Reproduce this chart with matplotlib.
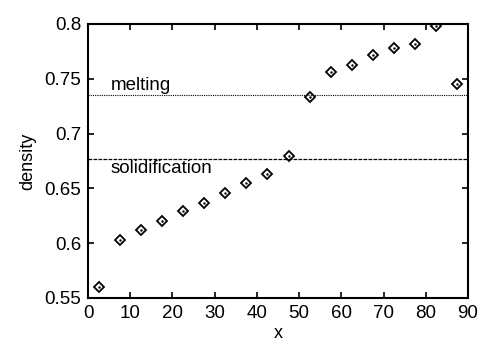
import numpy as np
import matplotlib
matplotlib.use('Agg')
import matplotlib.pyplot as plt

plt.rcParams['font.family'] = ['Liberation Sans', 'DejaVu Sans']

x = [2.5, 7.5, 12.5, 17.5, 22.5, 27.5, 32.5, 37.5, 42.5,
     47.5, 52.5, 57.5, 62.5, 67.5, 72.5, 77.5, 82.5, 87.5]
density = [0.560, 0.603, 0.612, 0.620, 0.629, 0.637, 0.646, 0.655, 0.663,
           0.680, 0.733, 0.756, 0.763, 0.772, 0.778, 0.782, 0.798, 0.745]
melting = 0.7355
solidification = 0.6765

fig = plt.figure(figsize=(4.8, 3.44), dpi=100)
ax = fig.add_axes([88/480, 1-298/344, 380/480, 274/344])

ax.axhline(melting, color='black', lw=0.8, ls=(0, (1, 1)))
ax.axhline(solidification, color='black', lw=0.9, ls=(0, (3, 1)))
ax.plot(x, density, 'kD', mfc='none', ms=5.5, mew=1.3)
ax.plot(x, density, 'k.', ms=1.5)

ax.text(5.3, melting + 0.0005, 'melting', fontsize=13.5, va='bottom')
ax.text(5.3, solidification - 0.001, 'solidification', fontsize=13.5, va='top')

ax.set_xlim(0, 90)
ax.set_ylim(0.55, 0.8)
ax.set_xticks(np.arange(0, 91, 10))
ax.set_yticks([0.55, 0.6, 0.65, 0.7, 0.75, 0.8])
ax.set_yticklabels(['0.55', '0.6', '0.65', '0.7', '0.75', '0.8'])
ax.tick_params(direction='in', top=True, right=True, labelsize=13.5, length=4, width=1.2, pad=5)
for s in ax.spines.values():
    s.set_linewidth(1.5)
ax.set_xlabel('x', fontsize=13, labelpad=2)
ax.set_ylabel('density', fontsize=13, labelpad=6)

fig.savefig('out.png', dpi=100)
